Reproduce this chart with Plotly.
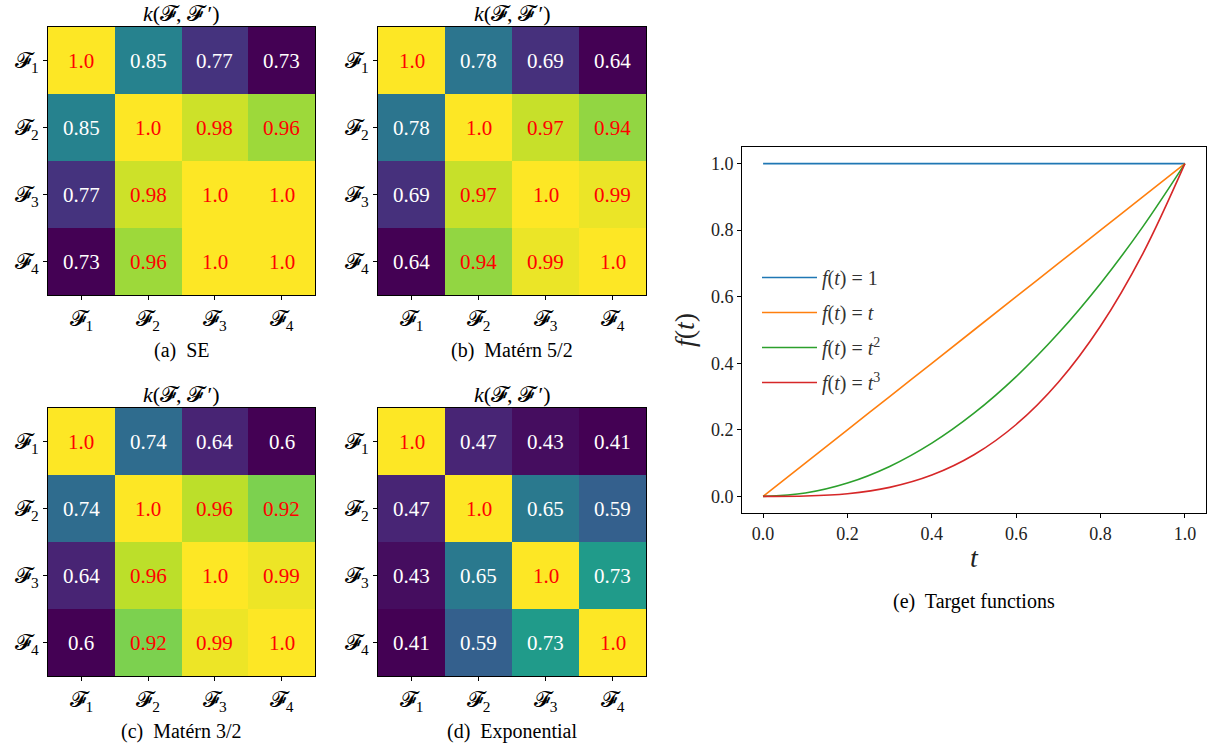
import plotly.graph_objects as go

# ---------------- data ----------------
labels = ["𝓕<sub>1</sub>", "𝓕<sub>2</sub>", "𝓕<sub>3</sub>", "𝓕<sub>4</sub>"]

k_se = [[1.0, 0.85, 0.77, 0.73],
        [0.85, 1.0, 0.98, 0.96],
        [0.77, 0.98, 1.0, 1.0],
        [0.73, 0.96, 1.0, 1.0]]
k_m52 = [[1.0, 0.78, 0.69, 0.64],
         [0.78, 1.0, 0.97, 0.94],
         [0.69, 0.97, 1.0, 0.99],
         [0.64, 0.94, 0.99, 1.0]]
k_m32 = [[1.0, 0.74, 0.64, 0.6],
         [0.74, 1.0, 0.96, 0.92],
         [0.64, 0.96, 1.0, 0.99],
         [0.6, 0.92, 0.99, 1.0]]
k_exp = [[1.0, 0.47, 0.43, 0.41],
         [0.47, 1.0, 0.65, 0.59],
         [0.43, 0.65, 1.0, 0.73],
         [0.41, 0.59, 0.73, 1.0]]

captions = ["(a)  SE", "(b)  Matérn 5/2", "(c)  Matérn 3/2", "(d)  Exponential"]

t_vals = [0.0, 0.1, 0.2, 0.3, 0.4, 0.5, 0.6, 0.7, 0.8, 0.9, 1.0]
f_const = [1.0, 1.0, 1.0, 1.0, 1.0, 1.0, 1.0, 1.0, 1.0, 1.0, 1.0]
f_lin = [0.0, 0.1, 0.2, 0.3, 0.4, 0.5, 0.6, 0.7, 0.8, 0.9, 1.0]
f_sq = [0.0, 0.01, 0.04, 0.09, 0.16, 0.25, 0.36, 0.49, 0.64, 0.81, 1.0]
f_cub = [0.0, 0.001, 0.008, 0.027, 0.064, 0.125, 0.216, 0.343, 0.512, 0.729, 1.0]
line_names = ["<i>f</i>(<i>t</i>) = 1", "<i>f</i>(<i>t</i>) = <i>t</i>",
              "<i>f</i>(<i>t</i>) = <i>t</i><sup>2</sup>", "<i>f</i>(<i>t</i>) = <i>t</i><sup>3</sup>"]

# ---------------- style ----------------
W, H = 1228, 754
SERIF = "Liberation Serif"
RED_THRESHOLD = 0.9
line_colors = ["#1f77b4", "#ff7f0e", "#2ca02c", "#d62728"]

def px_x(a, b):
    return [a / W, b / W]

def px_y(top, bottom):
    return [1 - bottom / H, 1 - top / H]

heat_boxes = [((48, 315), (27, 295)), ((378, 646), (27, 295)),
              ((48, 315), (408, 676)), ((378, 646), (408, 676))]

fig = go.Figure()
layout = {}
annotations = []

mats = [k_se, k_m52, k_m32, k_exp]
for i, (m, ((x0, x1), (y0, y1))) in enumerate(zip(mats, heat_boxes)):
    n = i + 1
    xa = "x" if n == 1 else f"x{n}"
    ya = "y" if n == 1 else f"y{n}"
    flat = [v for row in m for v in row]
    fig.add_trace(go.Heatmap(z=m, x=labels, y=labels, colorscale="Viridis",
                             zmin=min(flat), zmax=max(flat), showscale=False,
                             xaxis=xa, yaxis=ya, hoverinfo="skip"))
    for r in range(4):
        for c in range(4):
            v = m[r][c]
            annotations.append(dict(
                x=labels[c], y=labels[r], xref=xa, yref=ya, showarrow=False,
                text=("1.0" if v == 1.0 else f"{v:g}"),
                font=dict(family=SERIF, size=21,
                          color="red" if v >= RED_THRESHOLD else "white")))
    layout[f"xaxis{n if n > 1 else ''}"] = dict(
        domain=px_x(x0, x1), anchor=ya, showline=True, mirror=True, linecolor="black",
        linewidth=1, ticks="outside", ticklen=4, tickcolor="black",
        tickfont=dict(family=SERIF, size=22, color="black"), showgrid=False, zeroline=False)
    layout[f"yaxis{n if n > 1 else ''}"] = dict(
        domain=px_y(y0, y1), anchor=xa, showline=True, mirror=True, linecolor="black",
        linewidth=1, ticks="outside", ticklen=4, tickcolor="black",
        tickfont=dict(family=SERIF, size=22, color="black"), showgrid=False, zeroline=False,
        autorange="reversed")
    cx = (x0 + x1) / 2 / W
    annotations.append(dict(text="<i>k</i>(𝓕, 𝓕\u2009\u2032)", x=cx, y=1 - (y0 - 14) / H,
                            xref="paper", yref="paper", showarrow=False,
                            xanchor="center", yanchor="middle",
                            font=dict(family=SERIF, size=22, color="black")))
    annotations.append(dict(text=captions[i], x=cx, y=1 - (y1 + 55) / H,
                            xref="paper", yref="paper", showarrow=False,
                            xanchor="center", yanchor="middle",
                            font=dict(family=SERIF, size=20, color="black")))

# line chart
for j, (ys, name, col) in enumerate(zip([f_const, f_lin, f_sq, f_cub], line_names, line_colors)):
    fig.add_trace(go.Scatter(x=t_vals, y=ys, mode="lines", name=name, legendgroup=f"g{j}",
                             line=dict(color=col, width=1.6, shape="spline"),
                             xaxis="x5", yaxis="y5"))

tick_vals = [0, 0.2, 0.4, 0.6, 0.8, 1.0]
tick_text = ["0.0", "0.2", "0.4", "0.6", "0.8", "1.0"]
layout["xaxis5"] = dict(domain=px_x(742, 1206), anchor="y5", range=[-0.05, 1.05],
                        showline=True, mirror=True, linecolor="black", linewidth=1,
                        ticks="outside", ticklen=4, tickcolor="black",
                        tickvals=tick_vals, ticktext=tick_text,
                        tickfont=dict(family=SERIF, size=18, color="#222"),
                        showgrid=False, zeroline=False,
                        title=dict(text="<i>t</i>", font=dict(family=SERIF, size=28, color="#222"),
                                   standoff=4))
layout["yaxis5"] = dict(domain=px_y(147, 513), anchor="x5", range=[-0.05, 1.05],
                        showline=True, mirror=True, linecolor="black", linewidth=1,
                        ticks="outside", ticklen=4, tickcolor="black",
                        tickvals=tick_vals, ticktext=tick_text,
                        tickfont=dict(family=SERIF, size=18, color="#222"),
                        showgrid=False, zeroline=False,
                        title=dict(text="<i>f</i>(<i>t</i>)", font=dict(family=SERIF, size=28, color="#222"),
                                   standoff=8))
annotations.append(dict(text="(e)  Target functions", x=(742 + 1206) / 2 / W, y=1 - 601 / H,
                        xref="paper", yref="paper", showarrow=False,
                        xanchor="center", yanchor="middle",
                        font=dict(family=SERIF, size=20, color="black")))

fig.update_layout(
    width=W, height=H, margin=dict(l=0, r=0, t=0, b=0),
    paper_bgcolor="white", plot_bgcolor="white",
    annotations=annotations,
    legend=dict(x=757 / W, y=1 - 258 / H, xanchor="left", yanchor="top",
                bgcolor="rgba(0,0,0,0)", tracegroupgap=6,
                font=dict(family=SERIF, size=20, color="#333"), itemwidth=55),
    **layout,
)

fig.write_html("out.html", config={"displayModeBar": False},
               post_script="document.body.style.margin='0';")
